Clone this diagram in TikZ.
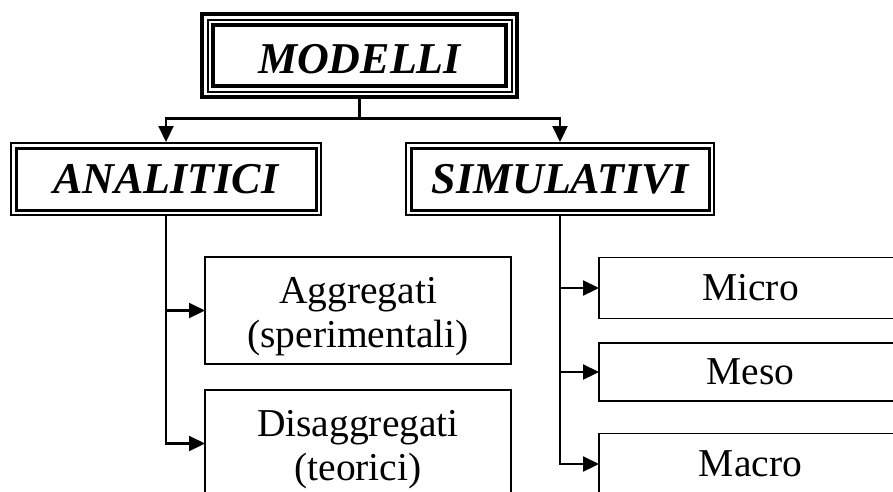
\documentclass[tikz,border=0pt]{standalone}
\usepackage{fontspec}
\setmainfont{Liberation Serif}
\usetikzlibrary{arrows.meta}
\begin{document}
\begin{tikzpicture}[x=1pt,y=-1pt,
  title/.style={draw, outer sep=0pt, inner sep=0pt,
    font=\fontsize{44}{50}\selectfont\bfseries\itshape},
  leaf/.style={draw, line width=1.5pt, outer sep=0pt, inner sep=0pt,
    align=center, minimum width=306pt,
    font=\fontsize{39.5}{44}\selectfont},
  twoline/.style={leaf, minimum height=107pt, text height=82pt},
  conn/.style={line width=2.2pt},
  arr/.style={conn, -{Triangle[length=16pt,width=15pt]}}
]
\path[use as bounding box, clip] (0,0) rectangle (893,491);

% top-level box with a triple frame
\node[title, line width=4pt, minimum width=293pt, minimum height=61pt,
  text height=36pt]
  (modelli) at (359.5,55.5) {MODELLI};
\draw[line width=2pt] ([shift={(-5.5,-5.5)}]modelli.north west)
  rectangle ([shift={(5.5,5.5)}]modelli.south east);
\draw[line width=3.5pt] ([shift={(-11,-11)}]modelli.north west)
  rectangle ([shift={(11,11)}]modelli.south east);

% second-level boxes with a double frame
\node[title, line width=3pt, minimum width=300pt, minimum height=62pt]
  (analitici) at (166,179) {ANALITICI};
\draw[line width=2pt] ([shift={(-5,-5)}]analitici.north west)
  rectangle ([shift={(5,5)}]analitici.south east);
\node[title, line width=3pt, minimum width=298pt, minimum height=62pt]
  (simulativi) at (560,179) {SIMULATIVI};
\draw[line width=2pt] ([shift={(-5,-5)}]simulativi.north west)
  rectangle ([shift={(5,5)}]simulativi.south east);

% leaves
\node[twoline] (aggr) at (358,310.5) {Aggregati\\(sperimentali)};
\node[twoline] (disagg) at (358,443.5) {Disaggregati\\(teorici)};
\node[leaf, minimum width=303pt, minimum height=61pt] (micro) at (750.5,288) {Micro};
\node[leaf, minimum width=303pt, minimum height=58pt] (meso) at (750.5,372) {Meso};
\node[leaf, minimum width=303pt, minimum height=61pt] (macro) at (750.5,464) {Macro};

% connector end points on the outer frames
\coordinate (mbot) at ([shift={(0,12.5)}]modelli.south);
\coordinate (hub) at ([shift={(0,20)}]mbot);
\coordinate (atop) at ([shift={(0,-6)}]analitici.north);
\coordinate (stop) at ([shift={(0,-6)}]simulativi.north);
\coordinate (abot) at ([shift={(0,6)}]analitici.south);
\coordinate (sbot) at ([shift={(0,6)}]simulativi.south);

\draw[conn] (mbot) -- (hub);
\draw[arr] (hub) -| (atop);
\draw[arr] (hub) -| (stop);

\draw[arr] (abot) |- (disagg.west);
\draw[arr] (abot |- aggr.west) -- (aggr.west);

\draw[arr] (sbot) |- (macro.west);
\draw[arr] (sbot |- micro.west) -- (micro.west);
\draw[arr] (sbot |- meso.west) -- (meso.west);
\end{tikzpicture}
\end{document}
